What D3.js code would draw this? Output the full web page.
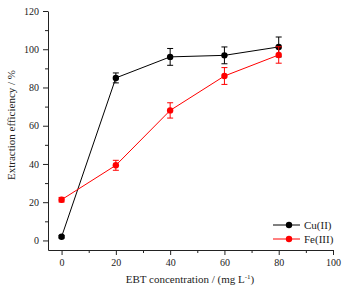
<!DOCTYPE html>
<html>
<head>
<meta charset="utf-8">
<script src="https://cdn.jsdelivr.net/npm/d3@7"></script>
<style>
  body { margin: 0; background: #fff; }
  svg { display: block; }
  text { font-family: "Liberation Serif", "DejaVu Serif", serif; }
</style>
</head>
<body>
<div id="chart"></div>
<script>
var concentrations = [0, 20, 40, 60, 80];
var cuValues = [1.9, 85, 96, 96.8, 101.2];
var cuErrors = [0.6, 2.6, 4.4, 4.4, 5.2];
var feValues = [21.3, 39.3, 68, 86, 97];
var feErrors = [1.2, 2.6, 4, 4.4, 4.3];
var seriesNames = ["Cu(II)", "Fe(III)"];
var seriesColors = ["#000000", "#ff0000"];
var xTicks = [0, 20, 40, 60, 80, 100];
var yTicks = [0, 20, 40, 60, 80, 100, 120];

var width = 344, height = 291;
var svg = d3.select("#chart").append("svg")
  .attr("width", width)
  .attr("height", height);

var x = d3.scaleLinear().domain([-5, 100]).range([48, 333]);
var y = d3.scaleLinear().domain([-5, 120]).range([250, 11]);

// minor ticks
svg.append("g")
  .attr("transform", "translate(0," + y(-5) + ")")
  .call(d3.axisBottom(x).tickValues(d3.range(10, 100, 20)).tickSize(3).tickFormat(""))
  .call(function(g){ g.select(".domain").remove(); });
svg.append("g")
  .attr("transform", "translate(" + x(-5) + ",0)")
  .call(d3.axisLeft(y).tickValues(d3.range(10, 120, 20)).tickSize(3).tickFormat(""))
  .call(function(g){ g.select(".domain").remove(); });

var xAxis = svg.append("g")
  .attr("transform", "translate(0," + y(-5) + ")")
  .call(d3.axisBottom(x).tickValues(xTicks).tickSize(5).tickSizeOuter(0).tickPadding(4));
var yAxis = svg.append("g")
  .attr("transform", "translate(" + x(-5) + ",0)")
  .call(d3.axisLeft(y).tickValues(yTicks).tickSize(5).tickSizeOuter(0).tickPadding(4));

svg.selectAll(".tick text").style("font-size", "10px").attr("fill", "#222");
svg.selectAll(".domain, .tick line").attr("stroke", "#222");

// axis titles
var xt = svg.append("text")
  .attr("x", 190).attr("y", 283)
  .attr("text-anchor", "middle")
  .style("font-size", "11px").attr("fill", "#222");
xt.append("tspan").text("EBT concentration / (mg L");
xt.append("tspan").attr("dy", -4).style("font-size", "7px").text("-1");
xt.append("tspan").attr("dy", 4).text(")");

svg.append("text")
  .attr("transform", "translate(15," + 125 + ") rotate(-90)")
  .attr("text-anchor", "middle")
  .style("font-size", "11px").attr("fill", "#222")
  .text("Extraction efficiency / %");

var allSeries = [
  { name: seriesNames[0], color: seriesColors[0], values: cuValues, errors: cuErrors },
  { name: seriesNames[1], color: seriesColors[1], values: feValues, errors: feErrors }
];

var line = d3.line()
  .x(function(d){ return x(d.x); })
  .y(function(d){ return y(d.y); });

allSeries.forEach(function(s) {
  var pts = concentrations.map(function(c, i){ return { x: c, y: s.values[i], e: s.errors[i] }; });
  var g = svg.append("g");
  g.append("path")
    .datum(pts)
    .attr("d", line)
    .attr("fill", "none")
    .attr("stroke", s.color)
    .attr("stroke-width", 1);
  var eb = g.selectAll(".err").data(pts).enter().append("g");
  eb.append("line")
    .attr("x1", function(d){ return x(d.x); }).attr("x2", function(d){ return x(d.x); })
    .attr("y1", function(d){ return y(d.y - d.e); }).attr("y2", function(d){ return y(d.y + d.e); })
    .attr("stroke", s.color).attr("stroke-width", 1);
  [-1, 1].forEach(function(sign) {
    eb.append("line")
      .attr("x1", function(d){ return x(d.x) - 3; }).attr("x2", function(d){ return x(d.x) + 3; })
      .attr("y1", function(d){ return y(d.y + sign * d.e); }).attr("y2", function(d){ return y(d.y + sign * d.e); })
      .attr("stroke", s.color).attr("stroke-width", 1);
  });
  g.selectAll("circle").data(pts).enter().append("circle")
    .attr("cx", function(d){ return x(d.x); })
    .attr("cy", function(d){ return y(d.y); })
    .attr("r", 3.2)
    .attr("fill", s.color);
});

// legend
var legend = svg.selectAll(".legend")
  .data(allSeries)
  .enter().append("g")
  .attr("class", "legend")
  .attr("transform", function(d, i){ return "translate(273," + (225 + i * 14) + ")"; });
legend.append("line")
  .attr("x1", 0).attr("x2", 27)
  .attr("stroke", function(d){ return d.color; });
legend.append("circle")
  .attr("cx", 16).attr("r", 3.2)
  .attr("fill", function(d){ return d.color; });
legend.append("text")
  .attr("x", 31).attr("y", 4)
  .style("font-size", "11px").attr("fill", "#222")
  .text(function(d){ return d.name; });
</script>
</body>
</html>
